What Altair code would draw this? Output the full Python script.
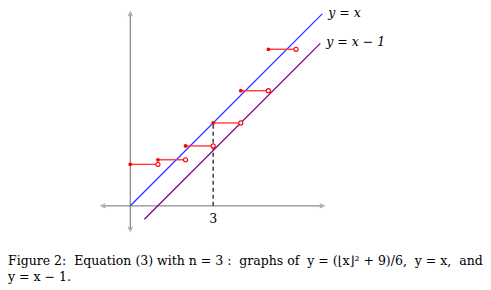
import altair as alt
import pandas as pd

# ---- data ----
step_x0 = [0, 1, 2, 3, 4, 5]
step_x1 = [1, 2, 3, 4, 5, 6]
step_y = [1.5, 1.667, 2.167, 3.0, 4.167, 5.667]

line_a_x = [0.0, 6.95]      # y = x
line_a_y = [0.0, 6.95]
line_b_x = [0.51, 6.88]     # y = x - 1
line_b_y = [-0.49, 5.88]

xaxis_x = [-0.98, 6.94]
yaxis_y = [-0.84, 6.94]

dash_x = [3, 3]
dash_y = [0, 3.0]

tick_label = ["3"]
tick_value = [3]

NB = "\u00a0"
caption1 = ("Figure 2:" + NB + " Equation (3) with n = 3 :" + NB + " graphs of" + NB +
            " y = (\u230ax\u230b\u00b2 + 9)/6," + NB + " y = x," + NB + " and")
caption2 = "y = x \u2212 1."

W, H = 491, 290
xs = alt.Scale(domain=[-4.718, 13.06], nice=False, zero=False)
ys = alt.Scale(domain=[-3.049, 7.451], nice=False, zero=False)
X = lambda f: alt.X(f, type="quantitative", scale=xs, axis=None)
Y = lambda f: alt.Y(f, type="quantitative", scale=ys, axis=None)

GRAY = "#8c8c8c"

steps = pd.DataFrame({"x0": step_x0, "x1": step_x1, "y": step_y})

ax_h = pd.DataFrame({"x": [xaxis_x[0]], "x2": [xaxis_x[1]], "y": [0]})
ax_v = pd.DataFrame({"x": [0], "y": [yaxis_y[0]], "y2": [yaxis_y[1]]})

xaxis = alt.Chart(ax_h).mark_rule(color=GRAY, strokeWidth=1.3).encode(
    x=X("x"), x2="x2", y=Y("y"))
yaxis = alt.Chart(ax_v).mark_rule(color=GRAY, strokeWidth=1.3).encode(
    x=X("x"), y=Y("y"), y2="y2")

arrows = pd.DataFrame({
    "x": [xaxis_x[0], xaxis_x[1], 0, 0],
    "y": [0, 0, yaxis_y[0], yaxis_y[1]],
    "a": [270, 90, 180, 0],
})
arrow_marks = alt.Chart(arrows).mark_point(
    shape="M-1,1L0,-1L1,1", filled=False, stroke=GRAY, strokeWidth=1.2, size=18
).encode(x=X("x"), y=Y("y"), angle=alt.Angle("a:Q", scale=None))

la = pd.DataFrame({"x": line_a_x, "y": line_a_y})
lb = pd.DataFrame({"x": line_b_x, "y": line_b_y})
line_a = alt.Chart(la).mark_line(color="#3030ff", strokeWidth=1.3).encode(x=X("x"), y=Y("y"))
line_b = alt.Chart(lb).mark_line(color="#800080", strokeWidth=1.3).encode(x=X("x"), y=Y("y"))

dash = alt.Chart(pd.DataFrame({"x": dash_x, "y": dash_y})).mark_line(
    color="#222222", strokeWidth=1.3, strokeDash=[4, 3]).encode(x=X("x"), y=Y("y"))

seg = alt.Chart(steps).mark_rule(color="#ff3b3b", strokeWidth=1.4).encode(
    x=X("x0"), x2="x1", y=Y("y"))
dots = alt.Chart(steps).mark_circle(color="#ff0000", size=14, opacity=1).encode(
    x=X("x0"), y=Y("y"))
opens = alt.Chart(steps).mark_point(shape="circle", filled=True, fill="white",
                                    stroke="#ff0000", strokeWidth=1.1, size=17, opacity=1).encode(
    x=X("x1"), y=Y("y"))

font = "DejaVu Serif"
lab = pd.DataFrame({"x": [line_a_x[1], line_b_x[1]], "y": [line_a_y[1], line_b_y[1]],
                    "t": ["y = x", "y = x \u2212 1"]})
labels = alt.Chart(lab).mark_text(align="left", baseline="middle", font=font,
                                  fontStyle="italic", fontSize=12.5, dx=6, dy=-1, color="black").encode(
    x=X("x"), y=Y("y"), text="t:N")

tick = alt.Chart(pd.DataFrame({"x": tick_value, "t": tick_label, "y": [0]})).mark_text(
    font=font, fontSize=12.5, baseline="middle", dy=13, color="black").encode(
    x=X("x"), y=Y("y"), text="t:N")

cap1 = alt.Chart(pd.DataFrame({"t": [caption1]})).mark_text(
    align="left", baseline="middle", font=font, fontSize=12.5, color="black").encode(
    x=alt.value(8), y=alt.value(261), text="t:N")
cap2 = alt.Chart(pd.DataFrame({"t": [caption2]})).mark_text(
    align="left", baseline="middle", font=font, fontSize=12.5, color="black").encode(
    x=alt.value(8), y=alt.value(277), text="t:N")

chart = alt.layer(xaxis, yaxis, arrow_marks, line_a, line_b, dash, seg, dots, opens,
                  labels, tick, cap1, cap2).properties(
    width=W, height=H, autosize=alt.AutoSizeParams(type="none"), padding=0,
    background="white"
).configure_view(stroke=None)

chart.save("out.html", embed_options={"renderer": "svg", "actions": False})
